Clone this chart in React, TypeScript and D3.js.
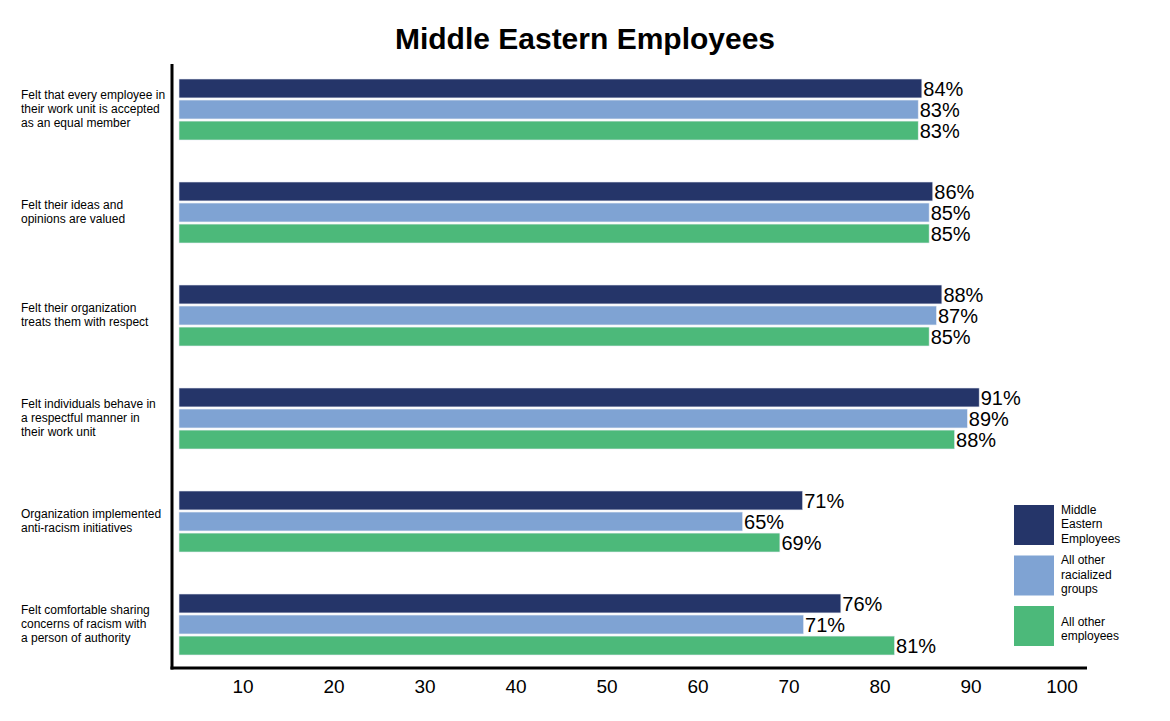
import * as d3 from 'd3';

const categories = [
  ['Felt that every employee in', 'their work unit is accepted', 'as an equal member'],
  ['Felt their ideas and', 'opinions are valued'],
  ['Felt their organization', 'treats them with respect'],
  ['Felt individuals behave in', 'a respectful manner in', 'their work unit'],
  ['Organization implemented', 'anti-racism initiatives'],
  ['Felt comfortable sharing', 'concerns of racism with', 'a person of authority'],
];

// bar lengths as drawn in the picture
const middleEastern = [84.6, 85.8, 86.8, 90.9, 71.5, 75.7];
const otherRacialized = [84.2, 85.4, 86.2, 89.6, 64.9, 71.6];
const otherEmployees = [84.2, 85.4, 85.4, 88.2, 69.0, 81.6];

// printed labels
const middleEasternLabels = ['84%', '86%', '88%', '91%', '71%', '76%'];
const otherRacializedLabels = ['83%', '85%', '87%', '89%', '65%', '71%'];
const otherEmployeesLabels = ['83%', '85%', '85%', '88%', '69%', '81%'];

const seriesNames = [
  ['Middle', 'Eastern', 'Employees'],
  ['All other', 'racialized', 'groups'],
  ['All other', 'employees'],
];
const seriesColors = ['#253569', '#7fa3d3', '#4cb97a'];
const ticks = [10, 20, 30, 40, 50, 60, 70, 80, 90, 100];

const W = 1170;
const H = 721;
const FONT = '"Liberation Sans", Arial, Helvetica, sans-serif';

export default function App() {
  const series = [middleEastern, otherRacialized, otherEmployees];
  const labels = [middleEasternLabels, otherRacializedLabels, otherEmployeesLabels];
  const x = d3.scaleLinear().domain([0, 100]).range([152, 1062]);
  const axisX = 172;
  const barStart = 179;

  // one band per question, inner band per series
  const y = d3
    .scaleBand<number>()
    .domain(d3.range(categories.length))
    .range([79 - 21, 594 + 103 - 21]);
  const inner = d3.scaleBand<number>().domain([0, 1, 2]).range([21, 82]).paddingInner(0.1);

  const legendY = d3.scaleBand<number>().domain([0, 1, 2]).range([505, 646]).paddingInner(0.208);

  return (
    <svg
      width={W}
      height={H}
      style={{ position: 'absolute', left: 0, top: 0, background: '#fff' }}
      fontFamily={FONT}
    >
      <text x={585} y={49} textAnchor="middle" fontSize={30} fontWeight="bold" fill="#000">
        Middle Eastern Employees
      </text>

      {categories.map((lines, i) => {
        const y0 = y(i)!;
        const center = y0 + inner(0)! + (inner(2)! + inner.bandwidth() - inner(0)!) / 2;
        const lh = 14;
        const top = center - ((lines.length - 1) * lh) / 2 - 1;
        return (
          <g key={i}>
            {series.map((vals, s) => (
              <g key={s}>
                <rect
                  x={barStart}
                  y={y0 + inner(s)!}
                  width={x(vals[i]) - barStart}
                  height={inner.bandwidth()}
                  fill={seriesColors[s]}
                  stroke="#e8ecf3"
                  strokeWidth={0.6}
                />
                <text
                  x={x(vals[i]) + 1.5}
                  y={y0 + inner(s)! + inner.bandwidth() / 2}
                  dy="0.37em"
                  fontSize={20}
                  fill="#000"
                >
                  {labels[s][i]}
                </text>
              </g>
            ))}
            <text fontSize={12} fill="#000">
              {lines.map((l, j) => (
                <tspan key={j} x={21} y={top + j * lh} dy="0.35em">
                  {l}
                </tspan>
              ))}
            </text>
          </g>
        );
      })}

      <line x1={axisX} x2={axisX} y1={64} y2={669.5} stroke="#000" strokeWidth={3} />
      <line x1={axisX - 1.5} x2={1087} y1={668} y2={668} stroke="#000" strokeWidth={3} />

      {ticks.map((t) => (
        <text key={t} x={x(t)} y={686} dy="0.36em" textAnchor="middle" fontSize={19} fill="#000">
          {t}
        </text>
      ))}

      {seriesNames.map((lines, s) => {
        const ly = legendY(s)!;
        const h = legendY.bandwidth();
        const lh = 14.5;
        const top = ly + h / 2 - ((lines.length - 1) * lh) / 2 + (lines.length === 2 ? 3 : -1);
        return (
          <g key={s}>
            <rect x={1014} y={ly} width={40} height={h} fill={seriesColors[s]} />
            <text fontSize={12} fill="#000">
              {lines.map((l, j) => (
                <tspan key={j} x={1061} y={top + j * lh} dy="0.35em">
                  {l}
                </tspan>
              ))}
            </text>
          </g>
        );
      })}
    </svg>
  );
}
